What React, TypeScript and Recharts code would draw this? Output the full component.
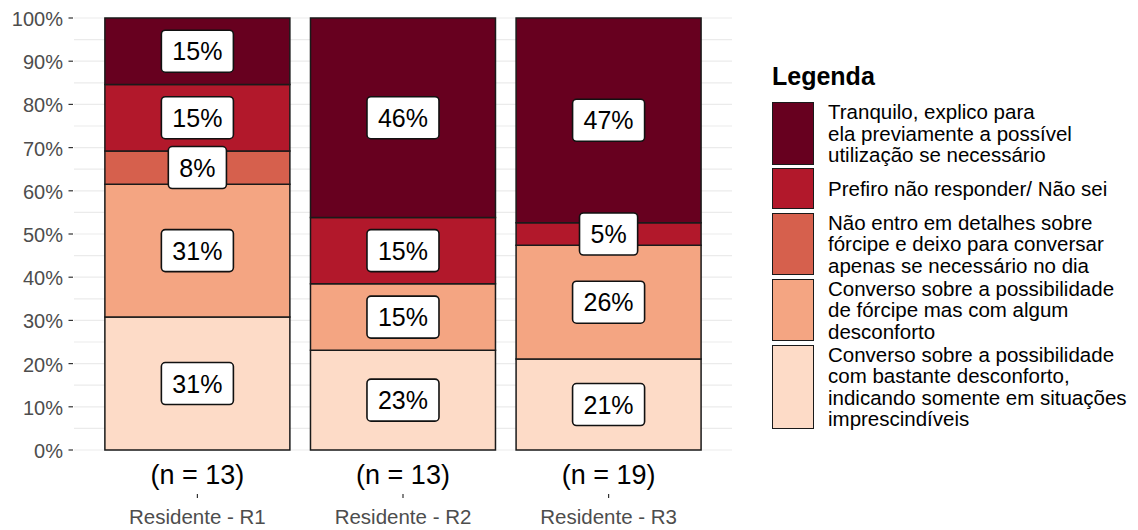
import React from 'react';
import { BarChart, Bar, XAxis, YAxis, CartesianGrid, LabelList, Legend } from 'recharts';

const categories = ['Residente - R1', 'Residente - R2', 'Residente - R3'];
const seriesNames = [
  'Converso sobre a possibilidade\ncom bastante desconforto,\nindicando somente em situações\nimprescindíveis',
  'Converso sobre a possibilidade\nde fórcipe mas com algum\ndesconforto',
  'Não entro em detalhes sobre\nfórcipe e deixo para conversar\napenas se necessário no dia',
  'Prefiro não responder/ Não sei',
  'Tranquilo, explico para\nela previamente a possível\nutilização se necessário',
];
const seriesColors = ['#FDDBC7', '#F4A582', '#D6604D', '#B2182B', '#67001F'];
const countsImprescindiveis = [4, 3, 4];
const countsAlgumDesconforto = [4, 2, 5];
const countsNaoEntro = [1, 0, 0];
const countsPrefiro = [2, 2, 1];
const countsTranquilo = [2, 6, 9];
const yTicks = [0, 10, 20, 30, 40, 50, 60, 70, 80, 90, 100];
const gridValues = [0, 5, 10, 15, 20, 25, 30, 35, 40, 45, 50, 55, 60, 65, 70, 75, 80, 85, 90, 95, 100];

const seriesCounts = [countsImprescindiveis, countsAlgumDesconforto, countsNaoEntro, countsPrefiro, countsTranquilo];
const seriesKeys = ['s0', 's1', 's2', 's3', 's4'];

const rows = categories.map((cat, i) => {
  const n = seriesCounts.reduce((a, s) => a + s[i], 0);
  const row: any = { cat, n };
  seriesKeys.forEach((k, j) => {
    row[k] = (seriesCounts[j][i] / n) * 100;
  });
  return row;
});

const FONT = '"Liberation Sans", Arial, sans-serif';

const charW = (c: string) => (c === '%' ? 0.889 : 0.556);

const renderLabel = (props: any) => {
  const vb = props.viewBox || props;
  const x = Number(vb.x ?? props.x);
  const y = Number(vb.y ?? props.y);
  const width = Number(vb.width ?? props.width);
  const height = Number(vb.height ?? props.height);
  const value = props.value;
  if (!value) return null;
  const txt = `${Math.round(value)}%`;
  const fs = 25;
  const w = fs * txt.split('').reduce((a, c) => a + charW(c), 0) + 22;
  const h = 42;
  const cx = x + width / 2;
  const cy = y + height / 2;
  return (
    <g>
      <rect x={cx - w / 2} y={cy - h / 2} width={w} height={h} rx={4} ry={4} fill="#fff" stroke="#111" strokeWidth={1.6} />
      <text x={cx} y={cy + 9} textAnchor="middle" fontFamily={FONT} fontSize={fs} fill="#000">{txt}</text>
    </g>
  );
};

const YTick = (props: any) => {
  const { x, y, payload } = props;
  return (
    <g>
      <line x1={x - 5.5} x2={x - 1} y1={y} y2={y} stroke="#333" strokeWidth={1.2} />
      <text x={x - 11} y={y + 8} textAnchor="end" fontFamily={FONT} fontSize={20} fill="#4D4D4D">{`${payload.value}%`}</text>
    </g>
  );
};

const XTick = (props: any) => {
  const { x, y, payload, index } = props;
  const row = rows[index] || rows.find((r) => r.cat === payload.value);
  return (
    <g>
      <text x={x} y={y + 34} textAnchor="middle" fontFamily={FONT} fontSize={27} fill="#000">{`(n = ${row ? row.n : ''})`}</text>
      <line x1={x} x2={x} y1={y + 44} y2={y + 48} stroke="#333" strokeWidth={1.2} />
      <text x={x} y={y + 74} textAnchor="middle" fontFamily={FONT} fontSize={20.5} fill="#4D4D4D">{payload.value}</text>
    </g>
  );
};

const LegendContent = () => {
  const order = [4, 3, 2, 1, 0];
  return (
    <div style={{ fontFamily: FONT, color: '#000' }}>
      <div style={{ fontSize: 25, lineHeight: '25px', fontWeight: 'bold', height: 25, marginBottom: 13 }}>Legenda</div>
      {order.map((j) => {
        const lines = seriesNames[j].split('\n');
        const h = lines.length === 1 ? 41 : lines.length * 21.5 - 2;
        return (
          <div key={j} style={{ display: 'flex', alignItems: 'center', height: h, marginBottom: 3.5 }}>
            <div style={{ width: 42, height: h, boxSizing: 'border-box', border: '1.6px solid #1a1a1a', background: seriesColors[j], flexShrink: 0 }} />
            <div style={{ marginLeft: 14, fontSize: 20.5, lineHeight: '21.5px', whiteSpace: 'nowrap' }}>
              {lines.map((l, k) => (
                <div key={k}>{l}</div>
              ))}
            </div>
          </div>
        );
      })}
    </div>
  );
};

const gridGen = (args: any) => {
  const { yAxis, offset } = args || {};
  if (yAxis && typeof yAxis.scale === 'function') {
    return gridValues.map((v) => yAxis.scale(v));
  }
  return gridValues.map((v) => offset.top + offset.height * (1 - v / 100));
};

export default function App() {
  return (
    <div style={{ position: 'absolute', left: 0, top: 0, width: 1138, height: 530, background: '#fff' }}>
      <BarChart
        width={1138}
        height={530}
        data={rows}
        margin={{ top: 18, right: 406, bottom: 0, left: 0 }}
        barCategoryGap="5%"
      >
        <CartesianGrid vertical={false} stroke="#EBEBEB" strokeWidth={1.2} horizontalCoordinatesGenerator={gridGen} />
        <XAxis
          dataKey="cat"
          height={80}
          padding={{ left: 20.6, right: 20.6 }}
          tickLine={false}
          axisLine={false}
          tickSize={0}
          tickMargin={0}
          tick={<XTick />}
          interval={0}
        />
        <YAxis
          type="number"
          domain={[0, 100]}
          ticks={yTicks}
          width={74}
          tickLine={false}
          axisLine={false}
          tickSize={0}
          tickMargin={0}
          tick={<YTick />}
          interval={0}
        />
        <Legend
          layout="horizontal"
          verticalAlign="middle"
          align="center"
          wrapperStyle={{ left: 772, top: 64, width: 366 }}
          content={<LegendContent />}
        />
        {seriesKeys.map((k, j) => (
          <Bar key={k} dataKey={k} stackId="a" fill={seriesColors[j]} stroke="#1a1a1a" strokeWidth={1.5} isAnimationActive={false}>
            <LabelList dataKey={k} content={renderLabel} />
          </Bar>
        ))}
      </BarChart>
    </div>
  );
}
